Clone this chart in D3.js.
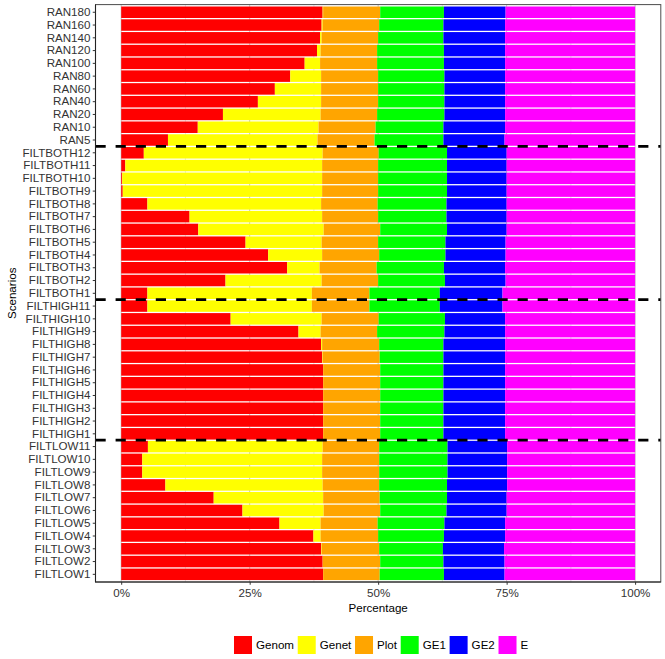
<!DOCTYPE html>
<html>
<head>
<meta charset="utf-8">
<script src="https://cdn.jsdelivr.net/npm/d3@7"></script>
<style>
  body { margin: 0; background: #fff; }
  text { font-family: "Liberation Sans", Arial, sans-serif; }
</style>
</head>
<body>
<div id="chart"></div>
<script>
// scenarios, top to bottom
const scenarios = [
    'RAN180', 'RAN160', 'RAN140', 'RAN120', 'RAN100', 'RAN80', 'RAN60', 'RAN40', 'RAN20', 'RAN10', 'RAN5',
    'FILTBOTH12', 'FILTBOTH11', 'FILTBOTH10', 'FILTBOTH9', 'FILTBOTH8', 'FILTBOTH7', 'FILTBOTH6',
    'FILTBOTH5', 'FILTBOTH4', 'FILTBOTH3', 'FILTBOTH2', 'FILTBOTH1',
    'FILTHIGH11', 'FILTHIGH10', 'FILTHIGH9', 'FILTHIGH8', 'FILTHIGH7', 'FILTHIGH6',
    'FILTHIGH5', 'FILTHIGH4', 'FILTHIGH3', 'FILTHIGH2', 'FILTHIGH1',
    'FILTLOW11', 'FILTLOW10', 'FILTLOW9', 'FILTLOW8', 'FILTLOW7', 'FILTLOW6',
    'FILTLOW5', 'FILTLOW4', 'FILTLOW3', 'FILTLOW2', 'FILTLOW1',
];

// variance components (%) per scenario, same order
const genom = [39.2, 39.0, 38.7, 38.1, 35.7, 32.9, 29.9, 26.6, 19.8, 14.9, 9.1,
    4.4, 0.8, 0.2, 0.3, 5.1, 13.3, 15.0, 24.2, 28.6, 32.3, 20.3, 5.1,
    5.1, 21.3, 34.5, 38.9, 39.1, 39.3, 39.3, 39.3, 39.3, 39.3, 39.3,
    5.2, 4.1, 4.1, 8.6, 18.0, 23.6, 30.8, 37.4, 38.9, 39.2, 39.3];
const genet = [0.1, 0.2, 0.3, 0.7, 3.0, 6.0, 9.0, 12.3, 19.0, 23.5, 29.1,
    34.8, 38.3, 38.9, 38.8, 33.8, 25.8, 24.4, 14.8, 10.5, 6.3, 18.7, 32.0,
    32.0, 17.7, 4.3, 0.2, 0.1, 0, 0, 0, 0, 0, 0,
    34.0, 35.0, 35.0, 30.6, 21.3, 15.8, 8.0, 1.4, 0.1, 0, 0];
const plot = [11.1, 11.0, 11.0, 11.0, 11.1, 11.1, 11.1, 11.1, 11.0, 11.1, 11.1,
    10.9, 10.9, 10.9, 10.9, 11.0, 10.9, 11.0, 11.0, 11.1, 11.1, 11.0, 11.2,
    11.2, 11.1, 11.0, 11.1, 11.1, 11.1, 11.1, 11.1, 11.1, 11.1, 11.1,
    11.0, 11.1, 11.1, 11.0, 11.0, 11.0, 11.1, 11.2, 11.2, 11.2, 11.0];
const ge1 = [12.4, 12.5, 12.7, 13.0, 13.0, 12.9, 12.9, 12.9, 13.1, 13.2, 13.4,
    13.3, 13.4, 13.4, 13.4, 13.4, 13.3, 13.0, 13.1, 12.9, 13.1, 13.0, 13.7,
    13.7, 12.9, 13.1, 12.5, 12.4, 12.3, 12.3, 12.3, 12.3, 12.3, 12.3,
    13.3, 13.3, 13.3, 13.2, 13.1, 12.9, 13.0, 12.8, 12.4, 12.3, 12.5];
const ge2 = [12.0, 12.0, 12.0, 11.9, 11.9, 11.8, 11.8, 11.8, 11.8, 12.0, 11.9,
    11.6, 11.6, 11.6, 11.6, 11.7, 11.7, 11.6, 11.7, 11.7, 11.9, 11.8, 12.2,
    12.2, 11.7, 11.8, 12.0, 12.0, 12.0, 12.0, 12.0, 12.0, 12.0, 12.0,
    11.6, 11.6, 11.6, 11.7, 11.6, 11.7, 11.8, 11.9, 11.9, 11.9, 11.8];
const e = [25.2, 25.3, 25.3, 25.3, 25.3, 25.3, 25.3, 25.3, 25.3, 25.3, 25.4,
    25.0, 25.0, 25.0, 25.0, 25.0, 25.0, 25.0, 25.2, 25.2, 25.3, 25.2, 25.8,
    25.8, 25.3, 25.3, 25.3, 25.3, 25.3, 25.3, 25.3, 25.3, 25.3, 25.3,
    24.9, 24.9, 24.9, 24.9, 25.0, 25.0, 25.3, 25.3, 25.5, 25.4, 25.4];

const components = ['Genom', 'Genet', 'Plot', 'GE1', 'GE2', 'E'];
const colors = ['#FF0000', '#FFFF00', '#FFA500', '#00FF00', '#0000FF', '#FF00FF'];
const xTicks = [0, 0.25, 0.5, 0.75, 1];
// dashed lines go between these pairs
const separators = [['RAN5', 'FILTBOTH12'], ['FILTBOTH1', 'FILTHIGH11'], ['FILTHIGH1', 'FILTLOW11']];

const series = [genom, genet, plot, ge1, ge2, e];
const table = scenarios.map((s, i) => {
    const row = {scenario: s};
    components.forEach((c, j) => { row[c] = series[j][i]; });
    return row;
});

const width = 665;
const height = 659;
const panel = {left: 95.5, right: 660.8, top: 4.6, bottom: 582};

const svg = d3.select('#chart')
    .append('svg')
    .attr('width', width)
    .attr('height', height);

svg.append('rect').attr('width', width).attr('height', height).attr('fill', '#fff');

// ggplot style 5% expansion on the continuous axis
const pad = (panel.right - panel.left) * 0.05 / 1.1;
const x = d3.scaleLinear()
    .domain([0, 1])
    .range([panel.left + pad, panel.right - pad]);

const y = d3.scaleBand()
    .domain(scenarios)
    .range([panel.top, panel.bottom])
    .paddingInner(0.1)
    .paddingOuter(0.15);

const color = d3.scaleOrdinal().domain(components).range(colors);

// vertical grid lines (mostly hidden behind the bars)
const minor = d3.range(0.125, 1, 0.25);
svg.append('g')
    .selectAll('line')
    .data(minor)
    .join('line')
    .attr('x1', (d) => x(d)).attr('x2', (d) => x(d))
    .attr('y1', panel.top).attr('y2', panel.bottom)
    .attr('stroke', '#d4d4d4')
    .attr('stroke-width', 0.6);
svg.append('g')
    .selectAll('line')
    .data(xTicks)
    .join('line')
    .attr('x1', (d) => x(d)).attr('x2', (d) => x(d))
    .attr('y1', panel.top).attr('y2', panel.bottom)
    .attr('stroke', '#c4c4c4')
    .attr('stroke-width', 1);

const stacked = d3.stack()
    .keys(components)
    .offset(d3.stackOffsetExpand)(table);

svg.append('g')
    .selectAll('g')
    .data(stacked)
    .join('g')
    .attr('fill', (d) => color(d.key))
    .selectAll('rect')
    .data((d) => d)
    .join('rect')
    .attr('x', (d) => x(d[0]))
    .attr('width', (d) => Math.max(0, x(d[1]) - x(d[0])))
    .attr('y', (d) => y(d.data.scenario))
    .attr('height', y.bandwidth());

// group separators
const center = (s) => y(s) + y.bandwidth() / 2;
svg.append('g')
    .selectAll('line')
    .data(separators)
    .join('line')
    .attr('x1', panel.left).attr('x2', panel.right)
    .attr('y1', (d) => (center(d[0]) + center(d[1])) / 2)
    .attr('y2', (d) => (center(d[0]) + center(d[1])) / 2)
    .attr('stroke', '#000')
    .attr('stroke-width', 2.8)
    .attr('stroke-dasharray', '10.2,9.9');

// panel border
svg.append('rect')
    .attr('x', panel.left).attr('y', panel.top)
    .attr('width', panel.right - panel.left)
    .attr('height', panel.bottom - panel.top)
    .attr('fill', 'none')
    .attr('stroke', '#4d4d4d')
    .attr('stroke-width', 1);
svg.append('path')
    .attr('d', `M${panel.left},${panel.top}V${panel.bottom}H${panel.right}`)
    .attr('fill', 'none')
    .attr('stroke', '#222')
    .attr('stroke-width', 1.1);

const yAxis = svg.append('g')
    .attr('transform', `translate(${panel.left},0)`)
    .call(d3.axisLeft(y).tickSize(2.75).tickPadding(2.3));
const xAxis = svg.append('g')
    .attr('transform', `translate(0,${panel.bottom})`)
    .call(d3.axisBottom(x).tickValues(xTicks).tickFormat(d3.format('.0%')).tickSize(2.75).tickPadding(3.8));

[yAxis, xAxis].forEach((g) => {
    g.select('.domain').remove();
    g.selectAll('.tick line').attr('stroke', '#333');
    g.selectAll('.tick text')
        .attr('fill', '#333')
        .style('font-size', '11.6px')
        .style('font-family', '"Liberation Sans", Arial, sans-serif');
});

// axis titles
svg.append('text')
    .attr('x', (panel.left + panel.right) / 2)
    .attr('y', 611.5)
    .attr('text-anchor', 'middle')
    .style('font-size', '11.6px')
    .text('Percentage');

svg.append('text')
    .attr('transform', `translate(15.5,${(panel.top + panel.bottom) / 2}) rotate(-90)`)
    .attr('text-anchor', 'middle')
    .style('font-size', '11.6px')
    .text('Scenarios');

// legend
const legend = svg.append('g').attr('transform', 'translate(0,636)');
let lx = 234;
components.forEach((c) => {
    legend.append('rect')
        .attr('x', lx).attr('y', 0)
        .attr('width', 18).attr('height', 18)
        .attr('fill', color(c));
    const t = legend.append('text')
        .attr('x', lx + 22)
        .attr('y', 13.2)
        .style('font-size', '11.6px')
        .text(c);
    lx += 22 + t.node().getComputedTextLength() + 3.7;
});
</script>
</body>
</html>
